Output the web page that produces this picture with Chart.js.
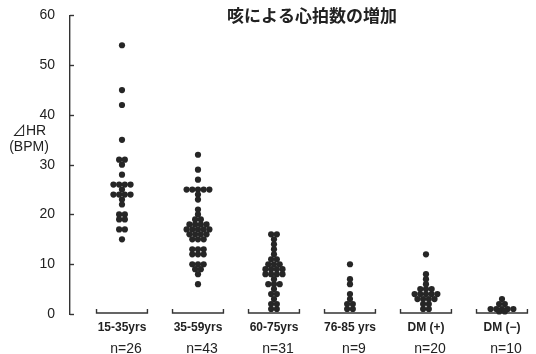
<!DOCTYPE html>
<html><head><meta charset="utf-8">
<script src="https://cdn.jsdelivr.net/npm/chart.js@4"></script>
<style>html,body{margin:0;padding:0;background:#fff}</style>
</head><body>
<canvas id="c" width="536" height="354" style="width:536px;height:354px;display:block"></canvas>
<script>
const categories = ["15-35yrs", "35-59yrs", "60-75yrs", "76-85 yrs", "DM (+)", "DM (−)"];
const counts = ["n=26", "n=43", "n=31", "n=9", "n=20", "n=10"];
const yTicks = [0, 10, 20, 30, 40, 50, 60];
const g1 = [54, 45, 42, 35, 31, 31, 30, 28, 26, 26, 26, 26, 25, 24, 24, 24, 24, 23, 22, 20, 20, 19, 19, 17, 17, 15];
const g2 = [32, 29, 27, 25, 25, 25, 25, 25, 24, 23, 21, 20, 19, 19, 18, 18, 18, 18, 17, 17, 17, 17, 17, 16, 16, 16, 16, 15, 15, 15, 13, 13, 13, 12, 12, 12, 10, 10, 10, 9, 9, 8, 6];
const g3 = [16, 16, 15, 14, 13, 12, 11, 11, 10, 10, 10, 9, 9, 9, 9, 8, 8, 8, 8, 7, 6, 6, 6, 5, 4, 4, 3, 2, 2, 1, 1];
const g4 = [10, 7, 6, 4, 3, 2, 2, 1, 1];
const g5 = [12, 8, 7, 6, 5, 5, 5, 4, 4, 4, 4, 4, 3, 3, 3, 3, 2, 2, 1, 1];
const g6 = [3, 2, 2, 1, 1, 1, 1, 1, 0.5, 0.5];
const groups = [g1, g2, g3, g4, g5, g6];

// deterministic beeswarm: spread equal values side by side
function swarm(values, center) {
  const tally = {};
  values.forEach(v => { tally[v] = (tally[v] || 0) + 1; });
  const seen = {};
  return values.map(v => {
    const k = tally[v];
    const j = seen[v] = (seen[v] === undefined ? 0 : seen[v] + 1);
    return { x: center + (j - (k - 1) / 2) * 0.075, y: v };
  });
}
const points = [];
groups.forEach((g, i) => points.push(...swarm(g, i + 1)));

const decor = {
  id: 'decor',
  beforeDatasetsDraw(chart) {
    const ctx = chart.ctx, xs = chart.scales.x, ys = chart.scales.y;
    ctx.save();
    ctx.strokeStyle = '#333';
    ctx.lineWidth = 1.4;
    // inward tick marks
    yTicks.forEach(v => {
      const py = Math.round(ys.getPixelForValue(v)) + 0.5;
      ctx.beginPath(); ctx.moveTo(ys.right, py); ctx.lineTo(ys.right + 4, py); ctx.stroke();
    });
    // group brackets
    const py = ys.getPixelForValue(0) - 1;
    categories.forEach((c, i) => {
      const cx = xs.getPixelForValue(i + 1);
      const h = xs.getPixelForValue(i + 1.335) - cx;
      ctx.beginPath();
      ctx.moveTo(cx - h, py - 4); ctx.lineTo(cx - h, py); ctx.lineTo(cx + h, py); ctx.lineTo(cx + h, py - 4);
      ctx.stroke();
    });
    // category labels
    ctx.fillStyle = '#222';
    ctx.textAlign = 'center';
    ctx.textBaseline = 'middle';
    categories.forEach((c, i) => {
      const cx = xs.getPixelForValue(i + 1);
      ctx.font = 'bold 12px "Liberation Sans", Arial, sans-serif';
      ctx.fillText(c, cx, 328);
      ctx.font = '14px "Liberation Sans", Arial, sans-serif';
      ctx.fillText(counts[i], cx + 4, 349);
    });
    // title
    ctx.font = 'bold 17px "Noto Sans CJK JP", sans-serif';
    ctx.fillText('咳による心拍数の増加', 312, 16);
    // y axis label
    ctx.font = '14px "Liberation Sans", Arial, "Noto Sans CJK JP", sans-serif';
    ctx.fillText('⊿HR', 29, 131);
    ctx.fillText('(BPM)', 29, 147);
    ctx.restore();
  }
};

new Chart(document.getElementById('c'), {
  type: 'scatter',
  data: { datasets: [{ data: points, pointRadius: 3.1, pointHoverRadius: 3.1, backgroundColor: '#262626', borderWidth: 0, clip: false }] },
  options: {
    responsive: false, animation: false,
    layout: { padding: { top: 14, bottom: 40, right: 4, left: 0 } },
    plugins: { legend: { display: false }, tooltip: { enabled: false } },
    scales: {
      x: { type: 'linear', display: false, min: 0.316, max: 6.395 },
      y: {
        min: 0, max: 60,
        afterFit: s => { s.width = 70; },
        afterBuildTicks: s => { s.ticks = yTicks.map(v => ({ value: v })); },
        grid: { display: false },
        border: { display: true, color: '#333', width: 1.4 },
        ticks: { padding: 7, color: '#222', font: { size: 14, family: '"Liberation Sans", Arial, sans-serif' } }
      }
    }
  },
  plugins: [decor]
});
</script>
</body></html>
